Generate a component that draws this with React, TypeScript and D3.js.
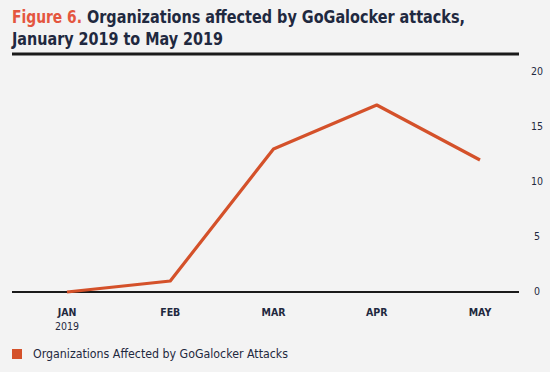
import React, { useEffect, useRef } from 'react';
import * as d3 from 'd3';

const months = ['JAN', 'FEB', 'MAR', 'APR', 'MAY'];
const subLabels = ['2019', '', '', '', ''];
const affected = [0, 1, 13, 17, 12];
const yTicks = [0, 5, 10, 15, 20];
const seriesName = 'Organizations Affected by GoGalocker Attacks';

const W = 550;
const H = 372;
const lineColor = '#d4512a';
const ink = '#1f2940';
const condensed = '"Liberation Sans Narrow", "DejaVu Sans Condensed", "Noto Sans", sans-serif';

export default function App() {
  const svgRef = useRef<SVGSVGElement>(null);

  useEffect(() => {
    const svg = d3.select(svgRef.current);
    svg.selectAll('*').remove();

    svg.append('rect').attr('width', W).attr('height', H).attr('fill', '#f3f3f3');

    // title, squeezed to the reference width
    const titleFont = (sel: any) => sel
      .attr('font-family', condensed).attr('font-size', 18).attr('font-weight', 'bold')
      .attr('lengthAdjust', 'spacingAndGlyphs');
    svg.append('text').call(titleFont)
      .attr('x', 12).attr('y', 23).attr('fill', '#e4563f')
      .attr('textLength', 70)
      .text('Figure 6.');
    svg.append('text').call(titleFont)
      .attr('x', 87).attr('y', 23).attr('fill', ink)
      .attr('textLength', 378)
      .text('Organizations affected by GoGalocker attacks,');
    svg.append('text').call(titleFont)
      .attr('x', 12).attr('y', 45).attr('fill', ink)
      .attr('textLength', 211)
      .text('January 2019 to May 2019');

    const left = 12, right = 519;
    svg.append('line')
      .attr('x1', left).attr('x2', right).attr('y1', 54).attr('y2', 54)
      .attr('stroke', '#1a1a1a').attr('stroke-width', 3);

    const x = d3.scalePoint<string>().domain(months).range([67, 480]);
    const y = d3.scaleLinear().domain([0, 20]).range([292, 72]);

    // baseline
    svg.append('line')
      .attr('x1', left).attr('x2', right).attr('y1', y(0)).attr('y2', y(0))
      .attr('stroke', '#1a1a1a').attr('stroke-width', 2);

    // y tick labels on right
    svg.append('g').selectAll('text').data(yTicks).join('text')
      .attr('x', 537).attr('y', d => y(d) + 3)
      .attr('text-anchor', 'middle')
      .attr('font-family', condensed).attr('font-size', 10.5)
      .attr('fill', ink)
      .text(d => d);

    // x tick labels
    const xl = svg.append('g');
    xl.selectAll('text.m').data(months).join('text')
      .attr('class', 'm')
      .attr('x', d => x(d)!).attr('y', 316)
      .attr('text-anchor', 'middle')
      .attr('font-family', condensed).attr('font-size', 10.5).attr('font-weight', 'bold')
      .attr('fill', ink)
      .text(d => d);
    xl.selectAll('text.s').data(months).join('text')
      .attr('class', 's')
      .attr('x', d => x(d)!).attr('y', 330)
      .attr('text-anchor', 'middle')
      .attr('font-family', condensed).attr('font-size', 10.5)
      .attr('fill', ink)
      .text((d, i) => subLabels[i]);

    // line
    const line = d3.line<number>()
      .x((d, i) => x(months[i])!)
      .y(d => y(d));
    svg.append('path')
      .datum(affected)
      .attr('fill', 'none')
      .attr('stroke', lineColor)
      .attr('stroke-width', 3.2)
      .attr('stroke-linejoin', 'round')
      .attr('d', line);

    // legend
    svg.append('rect')
      .attr('x', 12).attr('y', 349).attr('width', 10).attr('height', 10)
      .attr('fill', lineColor);
    svg.append('text')
      .attr('x', 33).attr('y', 358)
      .attr('font-family', condensed).attr('font-size', 12)
      .attr('fill', ink)
      .attr('textLength', 255).attr('lengthAdjust', 'spacingAndGlyphs')
      .text(seriesName);
  }, []);

  return (
    <div style={{ position: 'fixed', left: 0, top: 0 }}>
      <svg ref={svgRef} width={W} height={H} style={{ display: 'block' }} />
    </div>
  );
}
